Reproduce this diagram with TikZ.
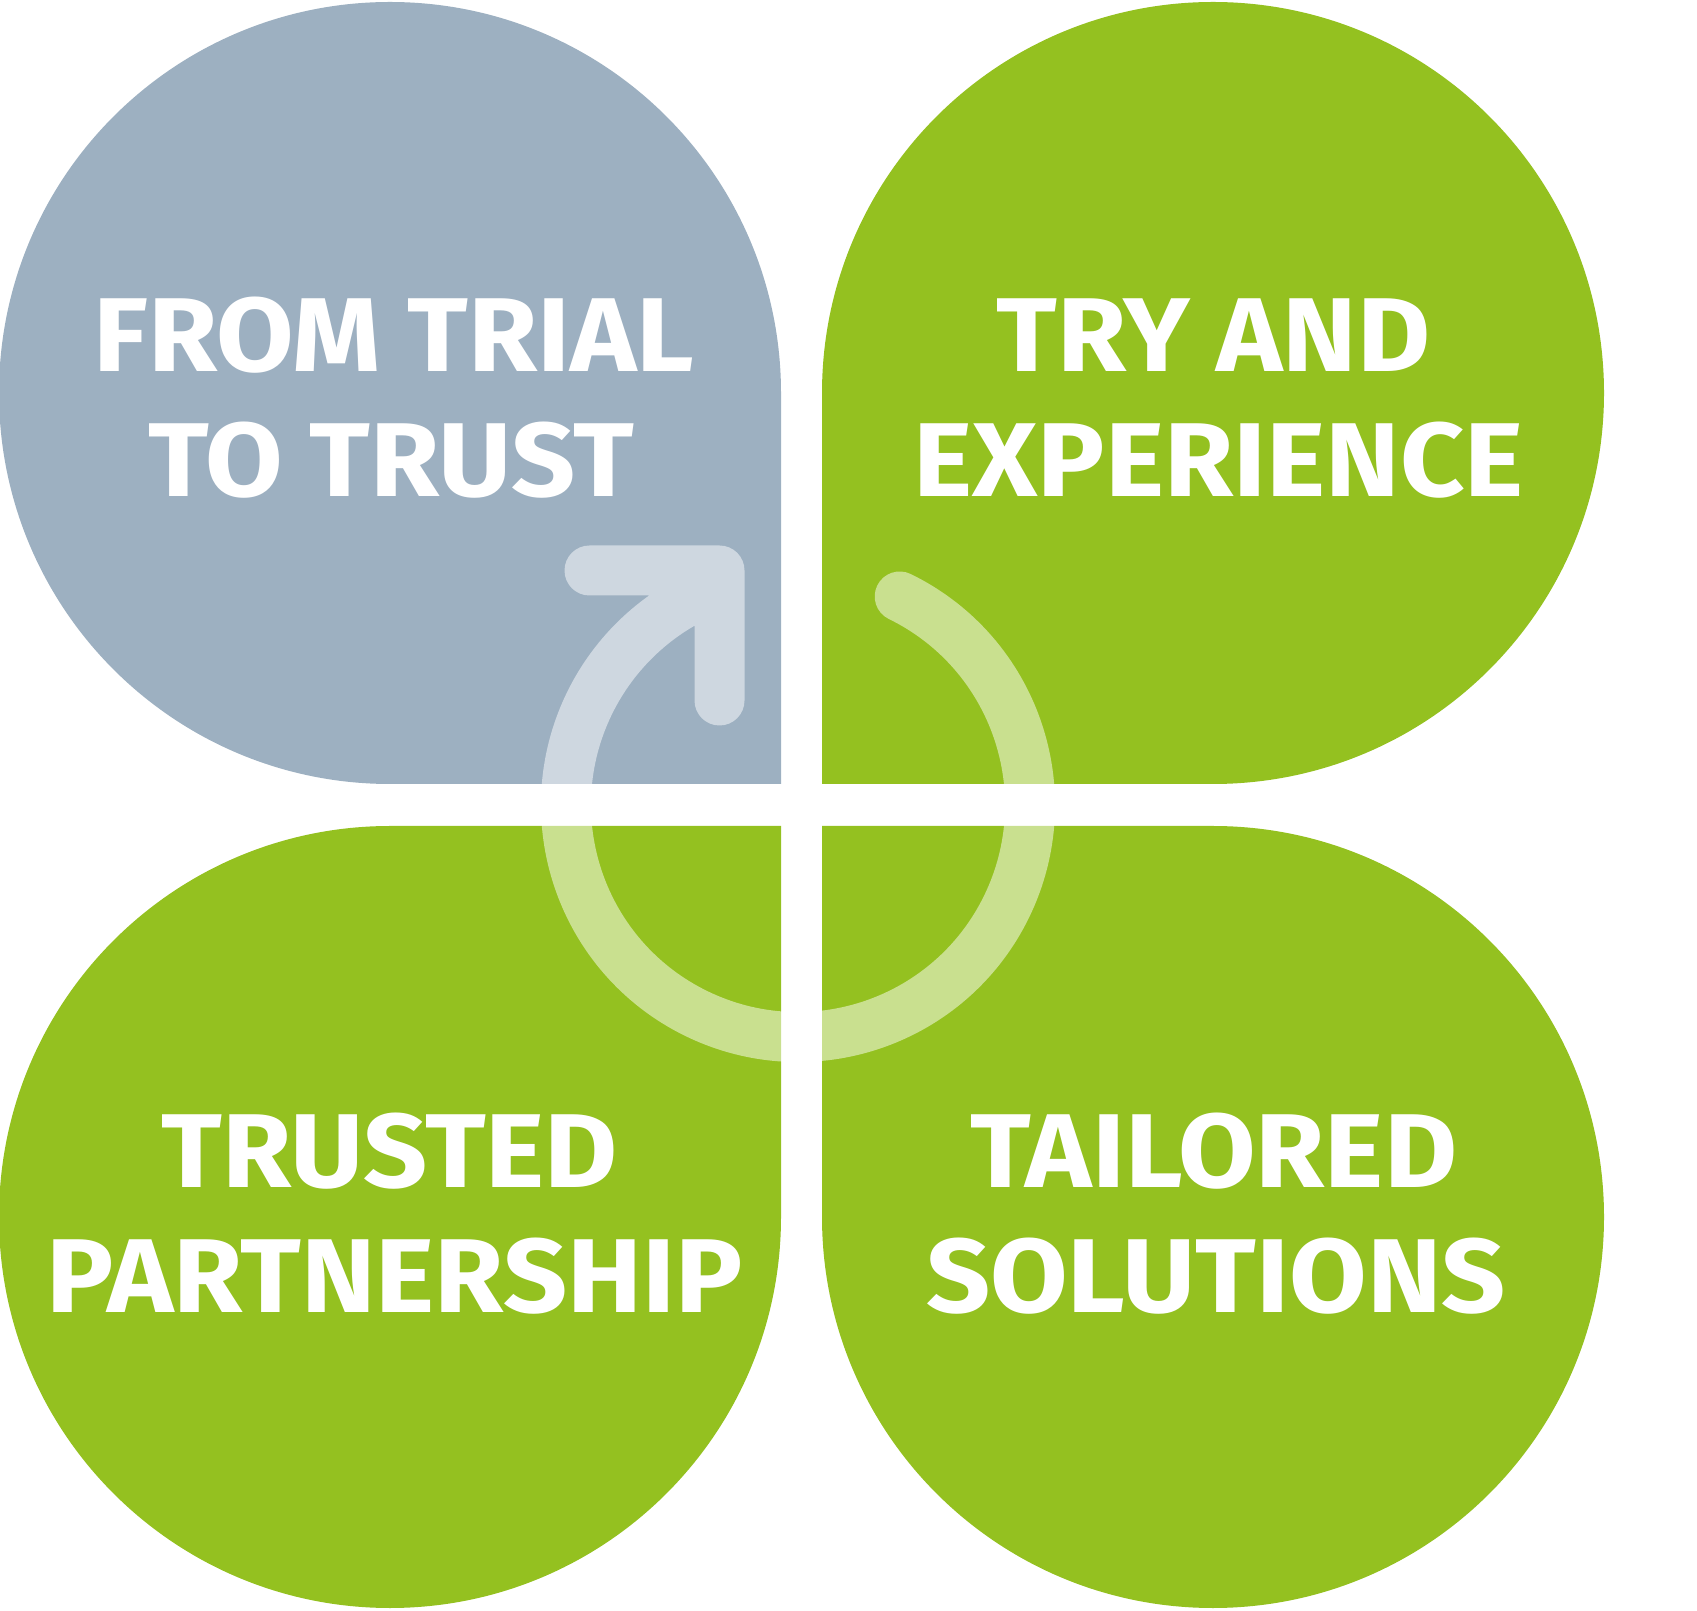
\documentclass[tikz,border=0pt]{standalone}
\usepackage{fontspec}
\setmainfont{Fira Sans}[FakeStretch=1.07]
\definecolor{leafblue}{HTML}{9DB0C1}
\definecolor{leafgreen}{HTML}{94C120}
\begin{document}
\begin{tikzpicture}[x=1pt,y=1pt,
  leafblue/.style={fill=leafblue,draw=none},
  leafgreen/.style={fill=leafgreen,draw=none},
  ringline/.style={draw=white,draw opacity=0.5,line width=50pt,line cap=round,line join=round},
  label/.style={text=white,font=\fontsize{105}{125}\selectfont\bfseries,anchor=base,inner sep=0pt}]
\useasboundingbox[fill=white] (0,0) rectangle (1697,1610);
% leaves
\path[leafblue]  (781,826) -- (781,1217) arc[start angle=0,end angle=270,radius=391pt] -- cycle;
\path[leafgreen] (822,826) -- (1213,826) arc[start angle=-90,end angle=180,radius=391pt] -- cycle;
\path[leafgreen] (781,784) -- (390,784) arc[start angle=90,end angle=360,radius=391pt] -- cycle;
\path[leafgreen] (822,784) -- (822,393) arc[start angle=180,end angle=450,radius=391pt] -- cycle;
% circular arrow
\coordinate (c) at (798,805);
\coordinate (h1) at (589.5,1039.5);
\coordinate (h2) at (719.5,1039.5);
\coordinate (h3) at (719.5,909.5);
\path[ringline] (c) ++(64:232pt) arc[start angle=64,end angle=-248,radius=232pt]
  (h1) -- (h2) -- (h3);
% labels
\node[label] (tl1) at (394,1238.8) {FROM TRIAL};
\node[label] (tl2) at (391.3,1113.2) {TO TRUST};
\node[label] (tr1) at (1213.8,1238.8) {TRY AND};
\node[label] (tr2) at (1218.6,1113.2) {EXPERIENCE};
\node[label] (bl1) at (390,422.7) {TRUSTED};
\node[label] (bl2) at (394.6,297.2) {PARTNERSHIP};
\node[label] (br1) at (1214,422.7) {TAILORED};
\node[label] (br2) at (1216,297.2) {SOLUTIONS};
\end{tikzpicture}
\end{document}
